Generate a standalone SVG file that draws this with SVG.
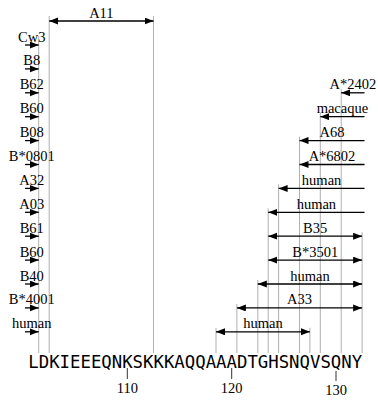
<svg xmlns="http://www.w3.org/2000/svg" width="378" height="402" viewBox="0 0 378 402">
<style>
.lbl{font-family:"Liberation Serif","Times New Roman",serif;font-size:14.5px;fill:#000;text-anchor:middle}
.seq{font-family:"DejaVu Sans Mono",monospace;font-size:17.33px;fill:#000}
.guide{stroke:#b0b0b0;stroke-width:1;fill:none}
.arr{stroke:#000;stroke-width:1.3;fill:none}
.one{marker-end:url(#ah)}
.two{marker-start:url(#ahs);marker-end:url(#ah)}
.tick{stroke:#333;stroke-width:1}
</style>
<defs>
<marker id="ah" markerUnits="userSpaceOnUse" markerWidth="10" markerHeight="8" refX="9" refY="3.5" orient="auto">
<path d="M0,0 L9,3.5 L0,7 Z" fill="#000"/>
</marker>
<marker id="ahs" markerUnits="userSpaceOnUse" markerWidth="10" markerHeight="8" refX="9" refY="3.5" orient="auto-start-reverse">
<path d="M0,0 L9,3.5 L0,7 Z" fill="#000"/>
</marker>
</defs>
<rect width="378" height="402" fill="#fff"/>
<g id="guides">
<line class="guide" x1="38.7" y1="36" x2="38.7" y2="353"/>
<line class="guide" x1="49.2" y1="16" x2="49.2" y2="353"/>
<line class="guide" x1="153.5" y1="16" x2="153.5" y2="353"/>
<line class="guide" x1="341.2" y1="88.8" x2="341.2" y2="353"/>
<line class="guide" x1="320.3" y1="112.7" x2="320.3" y2="353"/>
<line class="guide" x1="299.5" y1="136.6" x2="299.5" y2="353"/>
<line class="guide" x1="278.6" y1="184.4" x2="278.6" y2="353"/>
<line class="guide" x1="268.2" y1="208.3" x2="268.2" y2="353"/>
<line class="guide" x1="362.1" y1="232.2" x2="362.1" y2="353"/>
<line class="guide" x1="257.8" y1="280" x2="257.8" y2="353"/>
<line class="guide" x1="236.9" y1="303.9" x2="236.9" y2="353"/>
<line class="guide" x1="216" y1="327.8" x2="216" y2="353"/>
<line class="guide" x1="309.9" y1="327.8" x2="309.9" y2="353"/>
</g>
<g id="connectors">
<line class="arr two" x1="49.2" y1="21" x2="153.5" y2="21"/>
<line class="arr one" x1="25" y1="45" x2="38.7" y2="45"/>
<line class="arr one" x1="25" y1="68.9" x2="38.7" y2="68.9"/>
<line class="arr one" x1="25" y1="92.8" x2="38.7" y2="92.8"/>
<line class="arr one" x1="25" y1="116.7" x2="38.7" y2="116.7"/>
<line class="arr one" x1="25" y1="140.6" x2="38.7" y2="140.6"/>
<line class="arr one" x1="25" y1="164.5" x2="38.7" y2="164.5"/>
<line class="arr one" x1="25" y1="188.4" x2="38.7" y2="188.4"/>
<line class="arr one" x1="25" y1="212.3" x2="38.7" y2="212.3"/>
<line class="arr one" x1="25" y1="236.2" x2="38.7" y2="236.2"/>
<line class="arr one" x1="25" y1="260.1" x2="38.7" y2="260.1"/>
<line class="arr one" x1="25" y1="284" x2="38.7" y2="284"/>
<line class="arr one" x1="25" y1="307.9" x2="38.7" y2="307.9"/>
<line class="arr one" x1="25" y1="331.8" x2="38.7" y2="331.8"/>
<line class="arr one" x1="364.5" y1="92.8" x2="341.2" y2="92.8"/>
<line class="arr one" x1="364.5" y1="116.7" x2="320.3" y2="116.7"/>
<line class="arr one" x1="364.5" y1="140.6" x2="299.5" y2="140.6"/>
<line class="arr one" x1="364.5" y1="164.5" x2="299.5" y2="164.5"/>
<line class="arr one" x1="364.5" y1="188.4" x2="278.6" y2="188.4"/>
<line class="arr one" x1="364.5" y1="212.3" x2="268.2" y2="212.3"/>
<line class="arr two" x1="268.2" y1="236.2" x2="362.1" y2="236.2"/>
<line class="arr two" x1="268.2" y1="260.1" x2="362.1" y2="260.1"/>
<line class="arr two" x1="257.8" y1="284" x2="362.1" y2="284"/>
<line class="arr two" x1="236.9" y1="307.9" x2="362.1" y2="307.9"/>
<line class="arr two" x1="216" y1="331.8" x2="309.9" y2="331.8"/>
</g>
<g id="A11"><text class="lbl" x="101.35" y="17.5">A11</text></g>
<g id="Cw3"><text class="lbl" x="31.8" y="41.5">Cw3</text></g>
<g id="B8"><text class="lbl" x="31.8" y="65.4">B8</text></g>
<g id="B62"><text class="lbl" x="31.8" y="89.3">B62</text></g>
<g id="B60a"><text class="lbl" x="31.8" y="113.2">B60</text></g>
<g id="B08"><text class="lbl" x="31.8" y="137.1">B08</text></g>
<g id="B0801"><text class="lbl" x="31.8" y="161">B*0801</text></g>
<g id="A32"><text class="lbl" x="31.8" y="184.9">A32</text></g>
<g id="A03"><text class="lbl" x="31.8" y="208.8">A03</text></g>
<g id="B61"><text class="lbl" x="31.8" y="232.7">B61</text></g>
<g id="B60b"><text class="lbl" x="31.8" y="256.6">B60</text></g>
<g id="B40"><text class="lbl" x="31.8" y="280.5">B40</text></g>
<g id="B4001"><text class="lbl" x="31.8" y="304.4">B*4001</text></g>
<g id="human-left"><text class="lbl" x="31.8" y="328.3">human</text></g>
<g id="A2402"><text class="lbl" x="352.9" y="89.3">A*2402</text></g>
<g id="macaque"><text class="lbl" x="342.4" y="113.2">macaque</text></g>
<g id="A68"><text class="lbl" x="332" y="137.1">A68</text></g>
<g id="A6802"><text class="lbl" x="332" y="161">A*6802</text></g>
<g id="human1"><text class="lbl" x="321.6" y="184.9">human</text></g>
<g id="human2"><text class="lbl" x="316.4" y="208.8">human</text></g>
<g id="B35"><text class="lbl" x="315.2" y="232.7">B35</text></g>
<g id="B3501"><text class="lbl" x="315.2" y="256.6">B*3501</text></g>
<g id="human3"><text class="lbl" x="310" y="280.5">human</text></g>
<g id="A33"><text class="lbl" x="299.5" y="304.4">A33</text></g>
<g id="human4"><text class="lbl" x="263" y="328.3">human</text></g>
<g id="sequence"><text class="seq" x="28.3" y="368">LDKIEEEQNKSKKKAQQAAADTGHSNQVSQNY</text></g>
<g id="axis">
<line class="tick" x1="127.3" y1="368" x2="127.3" y2="379"/>
<line class="tick" x1="231.7" y1="368" x2="231.7" y2="379"/>
<line class="tick" x1="336" y1="371" x2="336" y2="381"/>
<text class="lbl" x="127.3" y="393">110</text>
<text class="lbl" x="231.7" y="393">120</text>
<text class="lbl" x="336" y="395">130</text>
</g>
</svg>
